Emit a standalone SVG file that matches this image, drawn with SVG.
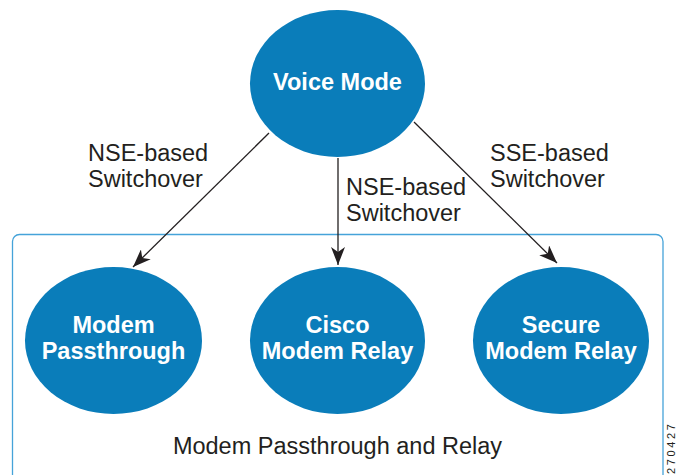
<svg xmlns="http://www.w3.org/2000/svg" width="676" height="475" viewBox="0 0 676 475">
<defs>
<style>
.node{fill:#0a7dba;}
.nt{font-family:"Liberation Sans",Arial,sans-serif;font-weight:bold;font-size:23.5px;fill:#ffffff;text-anchor:middle;}
.lbl{font-family:"Liberation Sans",Arial,sans-serif;font-size:23.5px;fill:#231f20;}
.conn{stroke:#231f20;stroke-width:1.3;fill:none;marker-end:url(#arr);}
.frame{fill:none;stroke:#45a3d9;stroke-width:1.3;}
</style>
<marker id="arr" viewBox="0 0 18 14" refX="18" refY="7" markerWidth="18" markerHeight="14" markerUnits="userSpaceOnUse" orient="auto">
<path d="M0,0 L18,7 L0,14 L5,7 Z" fill="#231f20"/>
</marker>
</defs>
<g id="container">
<rect class="frame" x="12.5" y="234.5" width="650.5" height="270" rx="7"/>
<text class="lbl" x="337.5" y="454" text-anchor="middle">Modem Passthrough and Relay</text>
</g>
<g id="connectors">
<line class="conn" x1="269" y1="133" x2="133" y2="267"/>
<line class="conn" x1="338" y1="158" x2="338" y2="265"/>
<line class="conn" x1="414" y1="122" x2="557" y2="263"/>
<text class="lbl" x="88" y="161">NSE-based</text>
<text class="lbl" x="88" y="187">Switchover</text>
<text class="lbl" x="346" y="195">NSE-based</text>
<text class="lbl" x="346" y="221">Switchover</text>
<text class="lbl" x="490" y="161">SSE-based</text>
<text class="lbl" x="490" y="187">Switchover</text>
</g>
<g id="voice-mode">
<ellipse class="node" cx="337.5" cy="83.5" rx="87.5" ry="73.5"/>
<text class="nt" x="337.5" y="90">Voice Mode</text>
</g>
<g id="modem-passthrough">
<ellipse class="node" cx="113.5" cy="340.5" rx="88.5" ry="73.5"/>
<text class="nt" x="113.5" y="333">Modem</text>
<text class="nt" x="113.5" y="359">Passthrough</text>
</g>
<g id="cisco-modem-relay">
<ellipse class="node" cx="337.5" cy="340.5" rx="87.5" ry="73.5"/>
<text class="nt" x="337.5" y="333">Cisco</text>
<text class="nt" x="337.5" y="359">Modem Relay</text>
</g>
<g id="secure-modem-relay">
<ellipse class="node" cx="561" cy="340.5" rx="88" ry="73.5"/>
<text class="nt" x="561" y="333">Secure</text>
<text class="nt" x="561" y="359">Modem Relay</text>
</g>
<text transform="translate(675,474) rotate(-90)" font-family="'Liberation Sans Narrow','Liberation Sans',Arial,sans-serif" font-size="11" fill="#231f20" textLength="50" lengthAdjust="spacing">270427</text>
</svg>
